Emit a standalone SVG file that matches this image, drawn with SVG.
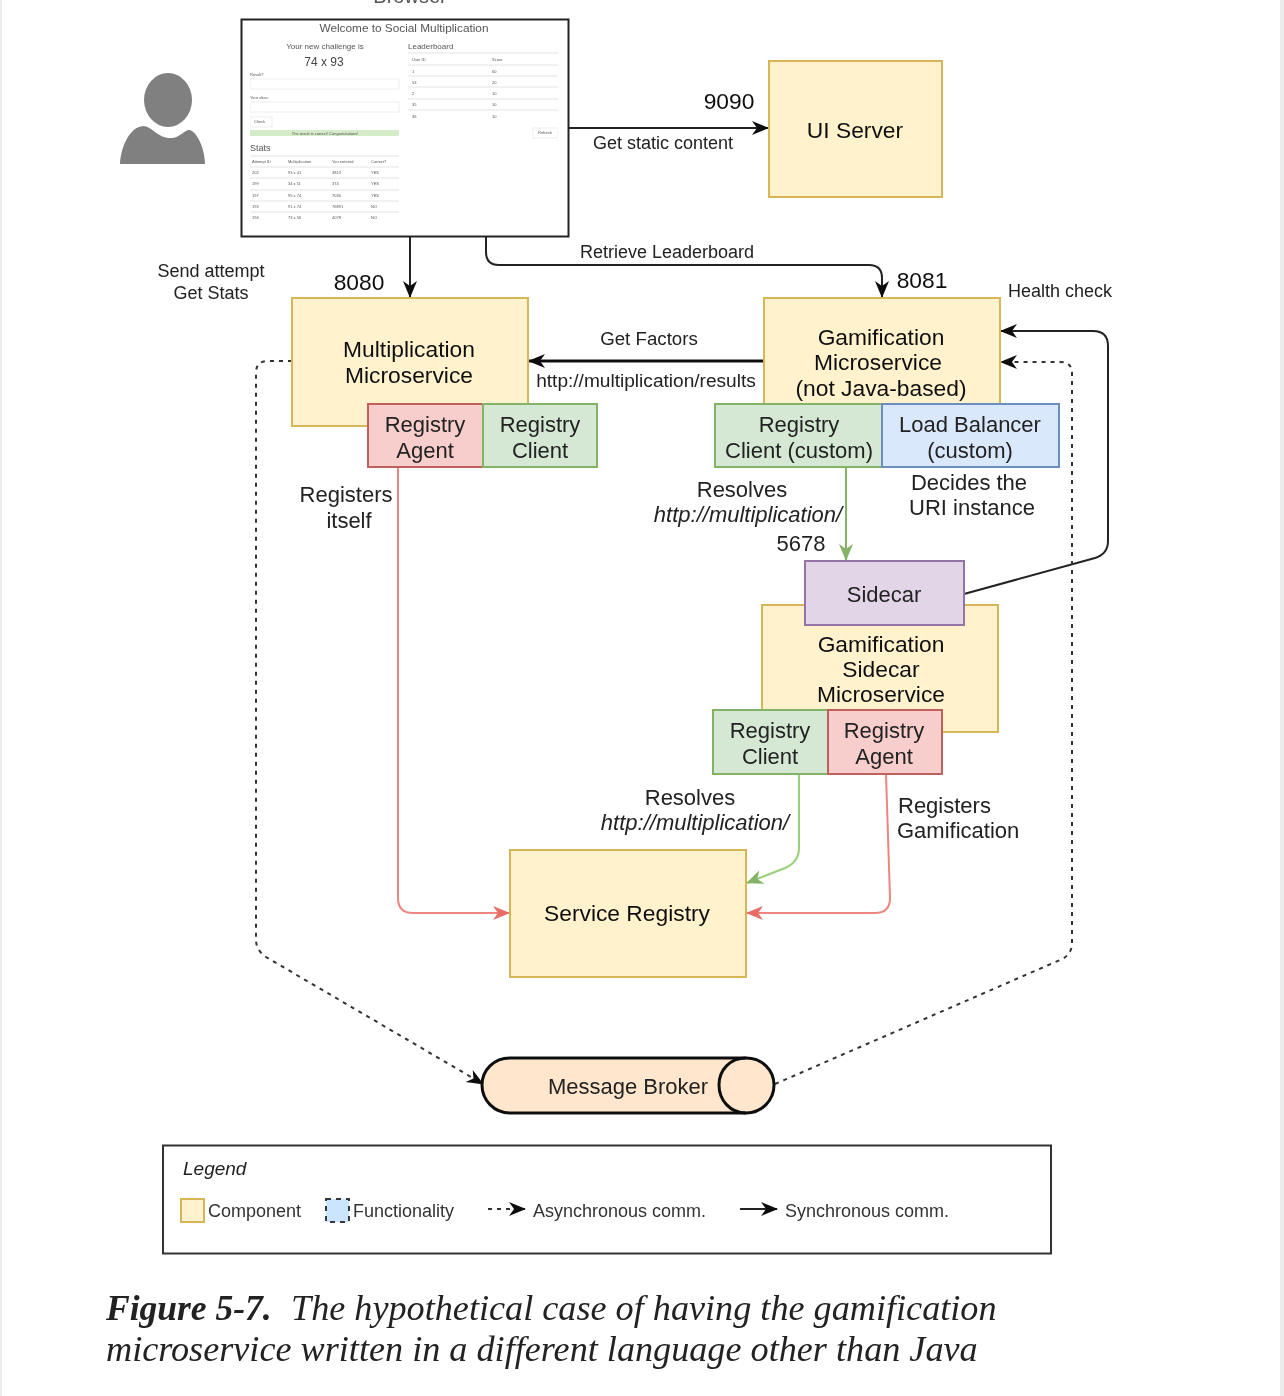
<svg xmlns="http://www.w3.org/2000/svg" width="1284" height="1396" viewBox="0 0 1284 1396">
<style>
text{font-family:"Liberation Sans",Arial,sans-serif;fill:#222;text-anchor:middle}
.l{font-size:22px}.n{font-size:22.800px;fill:#111}.m{font-size:18px}.s{font-size:18px;fill:#333}.i{font-style:italic}
.st{text-anchor:start}
.y{fill:#fff2cc;stroke:#d6b656;stroke-width:2}
.g{fill:#d5e8d4;stroke:#82b366;stroke-width:2}
.r{fill:#f8cecc;stroke:#c0605c;stroke-width:2}
.b{fill:#dae8fc;stroke:#6c8ebf;stroke-width:2}
.p{fill:#e1d5e7;stroke:#9673a6;stroke-width:2}
.c{fill:none;stroke:#222;stroke-width:2}
.d{stroke-dasharray:4 5;stroke:#333}
.t{fill:#555;text-anchor:start;font-size:4px}
.u{fill:#555;font-size:9px}
.h{stroke:#e4e4e4;stroke-width:1}
.cap{font-family:"Liberation Serif","Times New Roman",serif;font-size:36.200px;font-style:italic;text-anchor:start}
</style>
<defs>
<filter id="soft" x="0" y="0" width="100%" height="100%"><feGaussianBlur stdDeviation="0.450"/></filter>
<filter id="softer" x="0" y="0" width="100%" height="100%"><feGaussianBlur stdDeviation="0.600"/></filter>
<marker id="k" markerWidth="20" markerHeight="16" refX="17" refY="8" orient="auto" markerUnits="userSpaceOnUse"><path d="M1 1L18 8L1 15L6 8Z" fill="#111"/></marker>
<marker id="kg" markerWidth="20" markerHeight="16" refX="17" refY="8" orient="auto" markerUnits="userSpaceOnUse"><path d="M1 1L18 8L1 15L6 8Z" fill="#82b366"/></marker>
<marker id="kr" markerWidth="20" markerHeight="16" refX="17" refY="8" orient="auto" markerUnits="userSpaceOnUse"><path d="M1 1L18 8L1 15L6 8Z" fill="#ea6b66"/></marker>
</defs>
<rect width="1284" height="1396" fill="#fff"/>
<rect width="2" height="1396" fill="#ececec"/>
<rect x="1280" width="4" height="1396" fill="#ececec"/>
<g filter="url(#soft)">
<text x="410" y="3" style="font-size:20px;fill:#555">Browser</text>

<g id="user" fill="#808080"><ellipse cx="168" cy="100" rx="24" ry="27"/><path d="M120 164C121 146 130 127 143 126C152 126 158 139 172 138C181 137 185 129 190 130C198 133 205 150 205 164Z"/></g>

<g id="browser">
<rect x="241.500" y="19.500" width="327" height="217" fill="#fff" stroke="#222" stroke-width="2"/>
<g filter="url(#softer)">
<text x="404" y="32" style="font-size:11.800px;fill:#555">Welcome to Social Multiplication</text>
<text x="325" y="49" class="u" style="font-size:8px">Your new challenge is</text>
<text x="324" y="66" class="u" style="font-size:12px;fill:#444">74 x 93</text>
<text x="408" y="49" class="u st" style="font-size:8px">Leaderboard</text>
<text x="250" y="76" class="t">Result?</text>
<rect x="250" y="79" width="149" height="10" fill="#fff" stroke="#eee"/>
<text x="250" y="99" class="t">Your alias:</text>
<rect x="250" y="102" width="149" height="10" fill="#fff" stroke="#eee"/>
<rect x="250" y="117" width="22" height="10" fill="#fff" stroke="#eee"/>
<text x="254" y="123" class="t">Check</text>
<rect x="250" y="130" width="149" height="6" fill="#d5ecc8"/>
<text x="325" y="135" class="t" style="text-anchor:middle">The result is correct! Congratulations!</text>
<text x="250" y="151" class="u st" style="font-size:9px">Stats</text>
<g class="h">
<path d="M250 156H399M250 167H399M250 178H399M250 190H399M250 201H399M250 212H399M408 53H558M408 65H558M408 76H558M408 87H558M408 99H558M408 110H558"/>
</g>
<g>
<text x="252" y="163" class="t">Attempt ID</text><text x="288" y="163" class="t">Multiplication</text><text x="332" y="163" class="t">You entered</text><text x="371" y="163" class="t">Correct?</text>
<text x="252" y="174" class="t">202</text><text x="288" y="174" class="t">93 x 41</text><text x="332" y="174" class="t">3813</text><text x="371" y="174" class="t">YES</text>
<text x="252" y="185" class="t">199</text><text x="288" y="185" class="t">34 x 11</text><text x="332" y="185" class="t">374</text><text x="371" y="185" class="t">YES</text>
<text x="252" y="197" class="t">197</text><text x="288" y="197" class="t">95 x 74</text><text x="332" y="197" class="t">7030</text><text x="371" y="197" class="t">YES</text>
<text x="252" y="208" class="t">193</text><text x="288" y="208" class="t">91 x 74</text><text x="332" y="208" class="t">76891</text><text x="371" y="208" class="t">NO</text>
<text x="252" y="219" class="t">194</text><text x="288" y="219" class="t">73 x 56</text><text x="332" y="219" class="t">4078</text><text x="371" y="219" class="t">NO</text>
<text x="412" y="61" class="t">User ID</text><text x="492" y="61" class="t">Score</text>
<text x="412" y="73" class="t">1</text><text x="492" y="73" class="t">60</text>
<text x="412" y="84" class="t">53</text><text x="492" y="84" class="t">20</text>
<text x="412" y="95" class="t">2</text><text x="492" y="95" class="t">10</text>
<text x="412" y="106" class="t">35</text><text x="492" y="106" class="t">10</text>
<text x="412" y="118" class="t">36</text><text x="492" y="118" class="t">10</text>
</g>
<rect x="533" y="128" width="25" height="10" fill="#fff" stroke="#eee"/>
<text x="538" y="134" class="t">Refresh</text>
</g>
</g>

<g id="connectors">
<path class="c" d="M568 128H768" marker-end="url(#k)"/>
<path class="c" d="M410 237V297" marker-end="url(#k)"/>
<path class="c" d="M486 237V252Q486 265 499 265H869Q882 265 882 278V297" marker-end="url(#k)"/>
<path class="c" style="stroke-width:3;stroke:#111" d="M764 361H529" marker-end="url(#k)"/>
<path class="c" d="M964 594L1095 558Q1108 554 1108 541V346Q1108 331 1093 331H1001" marker-end="url(#k)"/>
<path class="c d" d="M292 361H268Q256 361 256 373V940Q256 950 266 957L483 1084" marker-end="url(#k)"/>
<path class="c d" d="M775 1084L1060 960Q1072 955 1072 943V373Q1072 362 1060 362H1001" marker-end="url(#k)"/>
<path fill="none" stroke="#82b366" stroke-width="2" d="M846 467V560" marker-end="url(#kg)"/>
<path fill="none" stroke="#97d077" stroke-width="2" d="M799 774V848Q799 862 785 868L747 883" marker-end="url(#kg)"/>
<path fill="none" stroke="#ee8580" stroke-width="2" d="M398 467V898Q398 913 413 913H509" marker-end="url(#kr)"/>
<path fill="none" stroke="#ee8580" stroke-width="2" d="M886 774L890 898Q890 913 875 913H747" marker-end="url(#kr)"/>
</g>

<g id="ui-server"><rect class="y" x="769" y="61" width="173" height="136"/><text x="855" y="138" class="n">UI Server</text></g>

<g id="multiplication"><rect class="y" x="292" y="298" width="236" height="128"/><text x="409" y="357" class="n">Multiplication</text><text x="409" y="383" class="n">Microservice</text></g>
<g id="mult-agent"><rect class="r" x="368" y="404" width="115" height="63"/><text x="425" y="432" class="l">Registry</text><text x="425" y="458" class="l">Agent</text></g>
<g id="mult-client"><rect class="g" x="483" y="404" width="114" height="63"/><text x="540" y="432" class="l">Registry</text><text x="540" y="458" class="l">Client</text></g>

<g id="gamification"><rect class="y" x="764" y="298" width="236" height="106"/><text x="881" y="345" class="n">Gamification</text><text x="878" y="370" class="n">Microservice</text><text x="881" y="396" class="n">(not Java-based)</text></g>
<g id="gam-client"><rect class="g" x="715" y="404" width="167" height="63"/><text x="799" y="432" class="l">Registry</text><text x="799" y="458" class="l">Client (custom)</text></g>
<g id="gam-lb"><rect class="b" x="882" y="404" width="177" height="63"/><text x="970" y="432" class="l">Load Balancer</text><text x="970" y="458" class="l">(custom)</text></g>

<g id="sidecar-ms"><rect class="y" x="762" y="605" width="236" height="127"/><text x="881" y="652" class="n">Gamification</text><text x="881" y="677" class="n">Sidecar</text><text x="881" y="702" class="n">Microservice</text></g>
<g id="sidecar"><rect class="p" x="805" y="561" width="159" height="64"/><text x="884" y="602" class="l">Sidecar</text></g>
<g id="side-client"><rect class="g" x="713" y="710" width="115" height="64"/><text x="770" y="738" class="l">Registry</text><text x="770" y="764" class="l">Client</text></g>
<g id="side-agent"><rect class="r" x="828" y="710" width="114" height="64"/><text x="884" y="738" class="l">Registry</text><text x="884" y="764" class="l">Agent</text></g>

<g id="service-registry"><rect class="y" x="510" y="850" width="236" height="127"/><text x="627" y="921" class="n">Service Registry</text></g>

<g id="message-broker">
<path d="M510 1058H746C762 1058 774 1070 774 1085C774 1100 762 1113 746 1113H510C494 1113 482 1100 482 1085C482 1070 494 1058 510 1058Z" fill="#ffe6cc" stroke="#111" stroke-width="3"/>
<path d="M746 1058C730 1058 719 1070 719 1085C719 1100 730 1113 746 1113" fill="none" stroke="#111" stroke-width="3"/>
<text x="628" y="1094" class="l">Message Broker</text>
</g>

<g id="labels">
<text x="729" y="109" class="n">9090</text>
<text x="663" y="149" class="m">Get static content</text>
<text x="667" y="258" class="m">Retrieve Leaderboard</text>
<text x="211" y="277" class="m">Send attempt</text>
<text x="211" y="299" class="m">Get Stats</text>
<text x="359" y="290" class="n">8080</text>
<text x="922" y="288" class="n">8081</text>
<text x="1060" y="297" class="m">Health check</text>
<text x="649" y="345" style="font-size:18.700px">Get Factors</text>
<text x="646" y="387" style="font-size:19.100px">http://multiplication/results</text>
<text x="346" y="502" class="l">Registers</text>
<text x="349" y="528" class="l">itself</text>
<text x="742" y="497" class="l">Resolves</text>
<text x="748" y="522" class="l i">http://multiplication/</text>
<text x="801" y="551" class="l">5678</text>
<text x="969" y="490" class="l">Decides the</text>
<text x="972" y="515" class="l">URI instance</text>
<text x="690" y="805" class="l">Resolves</text>
<text x="695" y="830" class="l i">http://multiplication/</text>
<text x="898" y="813" class="l st">Registers</text>
<text x="897" y="838" class="l st">Gamification</text>
</g>

<g id="legend">
<rect x="163" y="1145.500" width="888" height="108" fill="#fff" stroke="#333" stroke-width="2"/>
<text x="183" y="1175" class="i st" style="font-size:19px">Legend</text>
<rect class="y" x="181" y="1199" width="23" height="23"/>
<text x="208" y="1217" class="s st">Component</text>
<rect x="326" y="1199" width="23" height="23" fill="#cce5ff" stroke="#36393d" stroke-width="2" stroke-dasharray="5 5"/>
<text x="353" y="1217" class="s st">Functionality</text>
<path class="c d" d="M488 1209H525" marker-end="url(#k)"/>
<text x="533" y="1217" class="s st">Asynchronous comm.</text>
<path class="c" d="M740 1209H777" marker-end="url(#k)"/>
<text x="785" y="1217" class="s st">Synchronous comm.</text>
</g>

<g id="caption">
<text x="106" y="1320" class="cap"><tspan font-weight="bold" style="font-size:35.500px">Figure 5-7.</tspan><tspan x="291">The hypothetical case of having the gamification</tspan></text>
<text x="106" y="1361" class="cap">microservice written in a different language other than Java</text>
</g>
</g>
</svg>
